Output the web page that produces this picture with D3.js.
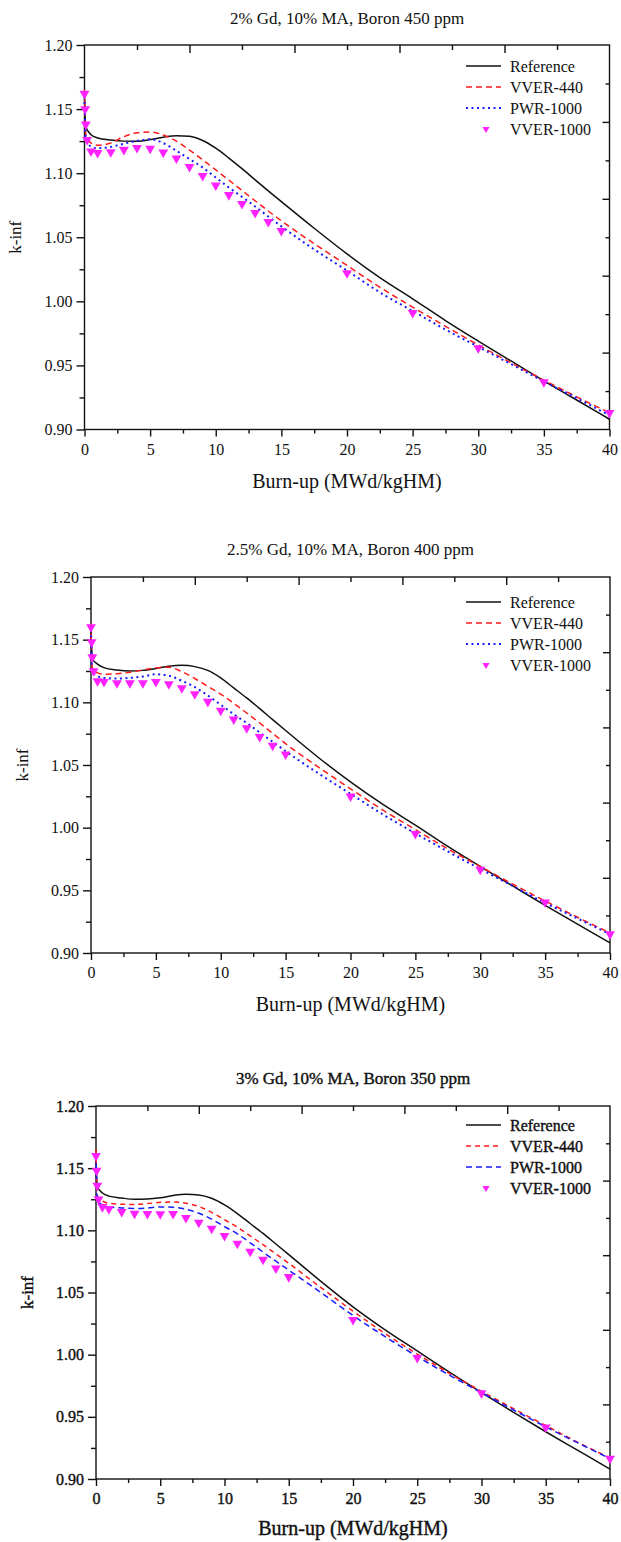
<!DOCTYPE html>
<html>
<head>
<meta charset="utf-8">
<script src="https://cdn.jsdelivr.net/npm/d3@7"></script>
<style>
body { margin: 0; background: #fff; }
</style>
</head>
<body>
<svg id="chart" width="621" height="1542"></svg>
<script>
// burn-up grids (MWd/kgHM)
const lineGrid = [0, 0.1, 0.5, 1, 2, 3, 4, 5, 6, 7, 8, 9, 10, 11, 12, 13, 14, 15, 17.5, 20, 22.5, 25, 27.5, 30, 32.5, 35, 37.5, 40];
const markerGrid = [0, 0.05, 0.1, 0.2, 0.5, 1, 2, 3, 4, 5, 6, 7, 8, 9, 10, 11, 12, 13, 14, 15, 20, 25, 30, 35, 40];

const xTicks = [0, 5, 10, 15, 20, 25, 30, 35, 40];
const yTicks = [0.90, 0.95, 1.00, 1.05, 1.10, 1.15, 1.20];
const seriesNames = ['Reference', 'VVER-440', 'PWR-1000', 'VVER-1000'];
const titles = ['2% Gd, 10% MA, Boron 450 ppm', '2.5% Gd, 10% MA, Boron 400 ppm', '3% Gd, 10% MA, Boron 350 ppm'];

// panel 1 : 2% Gd
const ref1 = [1.158, 1.136, 1.130, 1.1275, 1.1258, 1.1250, 1.1249, 1.1262, 1.1280, 1.1292, 1.1288, 1.1255, 1.1195, 1.1118, 1.1035, 1.0948, 1.0862, 1.0778, 1.0570, 1.0370, 1.0185, 1.0020, 0.9850, 0.9690, 0.9535, 0.9380, 0.9230, 0.9080];
const vver440_1 = [1.165, 1.130, 1.1235, 1.1218, 1.1235, 1.1285, 1.1315, 1.1322, 1.1298, 1.1250, 1.1180, 1.1105, 1.1025, 1.0945, 1.0865, 1.0785, 1.0705, 1.0628, 1.0450, 1.0280, 1.0110, 0.9955, 0.9805, 0.9660, 0.9520, 0.9385, 0.9255, 0.9130];
const pwr1000_1 = [1.160, 1.127, 1.1208, 1.1195, 1.1205, 1.1230, 1.1252, 1.1265, 1.1235, 1.1175, 1.1110, 1.1044, 1.0966, 1.0888, 1.0815, 1.0740, 1.0662, 1.0585, 1.0405, 1.0240, 1.0070, 0.9925, 0.9780, 0.9645, 0.9510, 0.9375, 0.9245, 0.9110];
const vver1000_1 = [1.162, 1.150, 1.138, 1.126, 1.117, 1.1158, 1.1165, 1.1183, 1.1198, 1.1192, 1.1162, 1.1115, 1.1050, 1.0980, 1.0905, 1.0830, 1.0760, 1.0690, 1.0620, 1.0550, 1.0220, 0.9910, 0.9635, 0.9370, 0.9130];

// panel 2 : 2.5% Gd
const ref2 = [1.158, 1.135, 1.1305, 1.1277, 1.1258, 1.1250, 1.1255, 1.1270, 1.1288, 1.1295, 1.1285, 1.1255, 1.1195, 1.1115, 1.1035, 1.0950, 1.0862, 1.0775, 1.0562, 1.0365, 1.0185, 1.0020, 0.9850, 0.9690, 0.9535, 0.9380, 0.9230, 0.9080];
const vver440_2 = [1.163, 1.128, 1.1235, 1.1225, 1.1228, 1.1240, 1.1258, 1.1275, 1.1280, 1.1245, 1.1190, 1.1128, 1.1065, 1.0992, 1.0915, 1.0835, 1.0752, 1.0670, 1.0485, 1.0310, 1.0140, 0.9985, 0.9830, 0.9690, 0.9550, 0.9415, 0.9285, 0.9160];
const pwr1000_2 = [1.158, 1.125, 1.1210, 1.1195, 1.1190, 1.1195, 1.1206, 1.1224, 1.1212, 1.1172, 1.1122, 1.1055, 1.0980, 1.0905, 1.0835, 1.0760, 1.0685, 1.0610, 1.0435, 1.0270, 1.0105, 0.9955, 0.9810, 0.9670, 0.9535, 0.9400, 0.9275, 0.9150];
const vver1000_2 = [1.160, 1.148, 1.136, 1.125, 1.117, 1.1163, 1.1153, 1.1153, 1.1153, 1.1163, 1.1145, 1.1113, 1.1066, 1.1005, 1.0935, 1.0865, 1.0795, 1.0725, 1.0655, 1.0585, 1.0250, 0.9950, 0.9665, 0.9405, 0.9150];

// panel 3 : 3% Gd
const ref3 = [1.158, 1.135, 1.130, 1.1275, 1.1260, 1.1250, 1.1252, 1.1262, 1.1280, 1.1290, 1.1285, 1.1258, 1.1205, 1.1135, 1.1055, 1.0975, 1.0890, 1.0805, 1.0590, 1.0385, 1.0200, 1.0030, 0.9860, 0.9695, 0.9535, 0.9380, 0.9230, 0.9080];
const vver440_3 = [1.165, 1.128, 1.1235, 1.1218, 1.1210, 1.1208, 1.1215, 1.1225, 1.1228, 1.1218, 1.1192, 1.1145, 1.1085, 1.1025, 1.0955, 1.0885, 1.0810, 1.0735, 1.0540, 1.0350, 1.0170, 1.0005, 0.9850, 0.9705, 0.9565, 0.9430, 0.9295, 0.9170];
const pwr1000_3 = [1.162, 1.125, 1.1205, 1.1190, 1.1180, 1.1176, 1.1180, 1.1188, 1.1185, 1.1170, 1.1138, 1.1090, 1.1030, 1.0972, 1.0900, 1.0825, 1.0752, 1.0680, 1.0500, 1.0315, 1.0145, 0.9985, 0.9835, 0.9695, 0.9555, 0.9420, 0.9290, 0.9165];
const vver1000_3 = [1.160, 1.148, 1.136, 1.125, 1.1188, 1.1172, 1.1148, 1.1135, 1.1132, 1.1130, 1.1132, 1.1100, 1.1063, 1.1014, 1.0955, 1.0894, 1.0830, 1.0765, 1.0695, 1.0625, 1.0280, 0.9975, 0.9690, 0.9415, 0.9165];

const panels = [
    { title: titles[0], lines: [ref1, vver440_1, pwr1000_1], pts: vver1000_1,
      l: 84.5, r: 609.5, t: 45, b: 429.5, titleY: 24, labelY: 488, kX: 21, legY: 66,
      blueDash: '2,3.5', redDash: '6,4', heavy: false },
    { title: titles[1], lines: [ref2, vver440_2, pwr1000_2], pts: vver1000_2,
      l: 91, r: 610, t: 577, b: 953, titleY: 555, labelY: 1011, kX: 28, legY: 602,
      blueDash: '2,3.5', redDash: '6,4', heavy: false },
    { title: titles[2], lines: [ref3, vver440_3, pwr1000_3], pts: vver1000_3,
      l: 96, r: 610, t: 1106, b: 1479, titleY: 1084, labelY: 1535, kX: 33, legY: 1125,
      blueDash: '6,4', redDash: '5,4', heavy: true }
];

const colors = ['#111111', '#ff1a1a', '#1a1aff', '#ff22ff'];
const FONT = '"Liberation Serif", "DejaVu Serif", "Times New Roman", Times, serif';

const svg = d3.select('#chart');

const drawPanel = (p) => {
    let g = svg.append('g');
    let x = d3.scaleLinear().domain([0, 40]).range([p.l, p.r]);
    let y = d3.scaleLinear().domain([0.90, 1.20]).range([p.b, p.t]);
    let dashes = [null, p.redDash, p.blueDash];

    // frame
    g.append('rect')
        .attr('x', p.l).attr('y', p.t)
        .attr('width', p.r - p.l).attr('height', p.b - p.t)
        .attr('fill', 'none').attr('stroke', '#111').attr('stroke-width', 1.4);

    // bottom axis, major + minor
    g.append('g').attr('transform', `translate(0,${p.b})`)
        .call(d3.axisBottom(x).tickValues(xTicks).tickSize(7).tickSizeOuter(0).tickPadding(7).tickFormat(d3.format('d')));
    g.append('g').attr('transform', `translate(0,${p.b})`)
        .call(d3.axisBottom(x).tickValues(d3.range(2.5, 40, 5)).tickSize(4).tickSizeOuter(0).tickFormat(''));

    // left axis, major + minor
    g.append('g').attr('transform', `translate(${p.l},0)`)
        .call(d3.axisLeft(y).tickValues(yTicks).tickSize(8).tickSizeOuter(0).tickPadding(4).tickFormat(d3.format('.2f')));
    g.append('g').attr('transform', `translate(${p.l},0)`)
        .call(d3.axisLeft(y).tickValues([0.925, 0.975, 1.025, 1.075, 1.125, 1.175]).tickSize(5).tickSizeOuter(0).tickFormat(''));

    // top axis (ticks inward)
    g.append('g').attr('transform', `translate(0,${p.t})`)
        .call(d3.axisBottom(x).tickValues([8, 16, 24, 32]).tickSize(8).tickSizeOuter(0).tickFormat(''));
    g.append('g').attr('transform', `translate(0,${p.t})`)
        .call(d3.axisBottom(x).tickValues([4, 12, 20, 28, 36]).tickSize(5).tickSizeOuter(0).tickFormat(''));

    // right axis (ticks inward)
    g.append('g').attr('transform', `translate(${p.r},0)`)
        .call(d3.axisLeft(y).tickValues([0.96, 1.02, 1.08, 1.14]).tickSize(7).tickSizeOuter(0).tickFormat(''));
    g.append('g').attr('transform', `translate(${p.r},0)`)
        .call(d3.axisLeft(y).tickValues([0.93, 0.99, 1.05, 1.11, 1.17]).tickSize(4).tickSizeOuter(0).tickFormat(''));

    g.selectAll('.domain').remove();
    g.selectAll('g').attr('font-family', FONT);
    g.selectAll('.tick line').attr('stroke', '#111').attr('stroke-width', 1.4);
    g.selectAll('.tick text')
        .attr('font-family', FONT)
        .attr('font-size', 16)
        .attr('fill', '#111');

    // series lines
    let line = d3.line()
        .x((d, i) => x(lineGrid[i]))
        .y((d) => y(d))
        .curve(d3.curveMonotoneX);

    p.lines.forEach((vals, i) => {
        g.append('path')
            .datum(vals)
            .attr('d', line)
            .attr('fill', 'none')
            .attr('stroke', colors[i])
            .attr('stroke-width', i === 2 && !p.heavy ? 2 : 1.5)
            .attr('stroke-dasharray', dashes[i]);
    });

    // VVER-1000 markers
    let tri = d3.symbol().type(d3.symbolTriangle).size(42);
    g.selectAll('path.mk')
        .data(p.pts)
        .enter()
        .append('path')
        .attr('class', 'mk')
        .attr('d', tri)
        .attr('transform', (d, i) => `translate(${x(markerGrid[i])},${y(d)}) rotate(180)`)
        .attr('fill', colors[3]);

    // legend
    let leg = g.append('g');
    seriesNames.forEach((name, i) => {
        let ly = p.legY + i * 21;
        if (i < 3) {
            leg.append('line')
                .attr('x1', 466).attr('x2', 501)
                .attr('y1', ly).attr('y2', ly)
                .attr('stroke', colors[i])
                .attr('stroke-width', i === 2 && !p.heavy ? 2 : 1.5)
                .attr('stroke-dasharray', dashes[i]);
        } else {
            leg.append('path')
                .attr('d', d3.symbol().type(d3.symbolTriangle).size(22))
                .attr('transform', `translate(486,${ly}) rotate(180)`)
                .attr('fill', colors[3]);
        }
        leg.append('text')
            .attr('x', 510).attr('y', ly + 5.5)
            .attr('font-size', 16)
            .text(name);
    });

    // titles
    g.append('text')
        .attr('x', (p.l + p.r) / 2).attr('y', p.titleY)
        .attr('text-anchor', 'middle')
        .attr('font-size', 17)
        .text(p.title);

    g.append('text')
        .attr('x', (p.l + p.r) / 2).attr('y', p.labelY)
        .attr('text-anchor', 'middle')
        .attr('font-size', 20)
        .text('Burn-up (MWd/kgHM)');

    g.append('text')
        .attr('transform', `translate(${p.kX},${(p.t + p.b) / 2}) rotate(-90)`)
        .attr('text-anchor', 'middle')
        .attr('font-size', 17)
        .text('k-inf');

    g.selectAll('text').attr('font-family', FONT).attr('fill', '#111');
    if (p.heavy) {
        g.selectAll('text').attr('stroke', '#111').attr('stroke-width', 0.4);
    }
}

panels.forEach(drawPanel);
</script>
</body>
</html>
